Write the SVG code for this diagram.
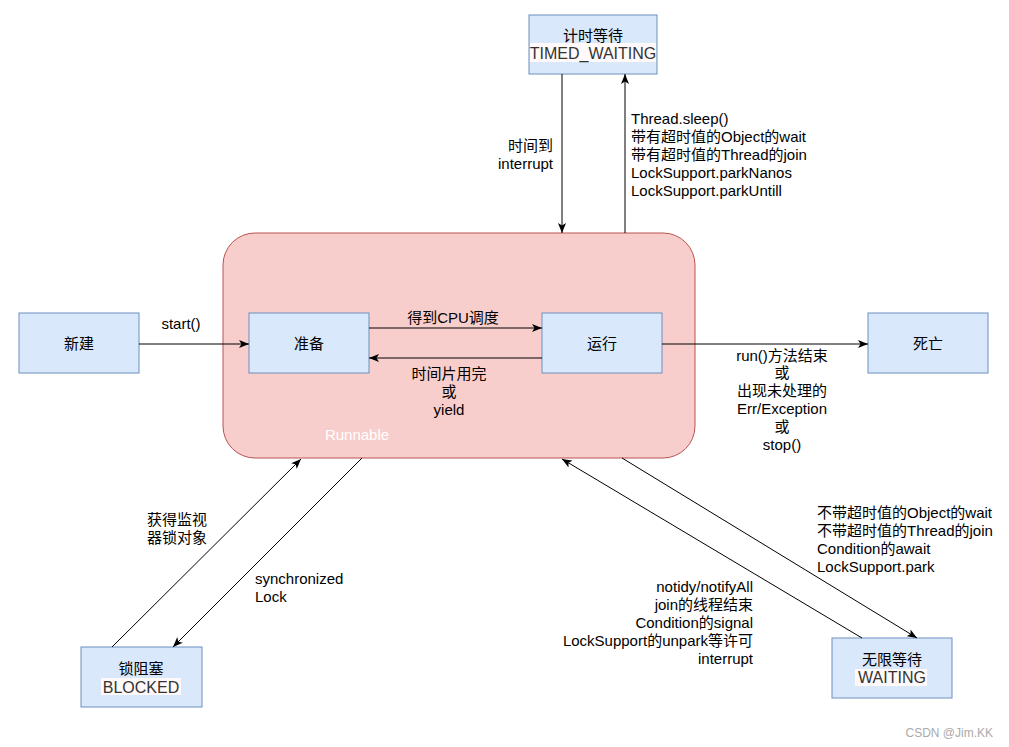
<svg xmlns="http://www.w3.org/2000/svg" width="1009" height="747" viewBox="0 0 1009 747">
<style>
text{font-family:"Liberation Sans",Arial,"Noto Sans CJK SC",sans-serif;font-size:15px;fill:#000;dominant-baseline:central}
.box{fill:#dae8fc;stroke:#6c8ebf;stroke-width:1}
.c{text-anchor:middle}
.e{text-anchor:end}
.en{font-size:16px;fill:#333}
.hl{fill:#fffaf9}
.edge{fill:none;stroke:#000;stroke-width:1;marker-end:url(#arr)}
</style>
<defs>
<marker id="arr" viewBox="0 0 10 8" refX="10" refY="4" markerWidth="10" markerHeight="8" markerUnits="userSpaceOnUse" orient="auto">
<path d="M0,0 L10,4 L0,8 L2.5,4 Z" fill="#000"/>
</marker>
</defs>
<rect width="1009" height="747" fill="#fff"/>
<g id="runnable">
<rect x="223" y="233" width="472" height="225" rx="32" ry="32" fill="#f8cecc" stroke="#b85450"/>
<text x="357" y="434" class="c" style="fill:#fff">Runnable</text>
</g>
<g id="new">
<rect class="box" x="19" y="313" width="120" height="60"/>
<text x="79" y="343" class="c">新建</text>
</g>
<g id="ready">
<rect class="box" x="249" y="313" width="120" height="60"/>
<text x="309" y="343" class="c">准备</text>
</g>
<g id="running">
<rect class="box" x="542" y="313" width="120" height="60"/>
<text x="602" y="343" class="c">运行</text>
</g>
<g id="dead">
<rect class="box" x="868" y="313" width="120" height="60"/>
<text x="928" y="343" class="c">死亡</text>
</g>
<g id="timed">
<rect class="box" x="529" y="15" width="128" height="59"/>
<text x="593" y="35" class="c">计时等待</text>
<rect class="hl" x="530" y="43" width="126" height="19"/>
<text x="593" y="53" class="c en">TIMED_WAITING</text>
</g>
<g id="blocked">
<rect class="box" x="81" y="647" width="121" height="60"/>
<text x="141" y="668" class="c">锁阻塞</text>
<rect class="hl" x="101" y="678" width="80" height="17"/>
<text x="141" y="687" class="c en">BLOCKED</text>
</g>
<g id="waiting">
<rect class="box" x="832" y="638" width="120" height="60"/>
<text x="892" y="659" class="c">无限等待</text>
<rect class="hl" x="855" y="669" width="72" height="17"/>
<text x="892" y="677" class="c en">WAITING</text>
</g>
<g id="connectors">
<path class="edge" d="M139,344 L249,344"/>
<path class="edge" d="M369,328 L542,328"/>
<path class="edge" d="M542,358 L369,358"/>
<path class="edge" d="M662,344 L868,344"/>
<path class="edge" d="M562,74 L562,233"/>
<path class="edge" d="M625,233 L625,74"/>
<path class="edge" d="M112,647 L301,459"/>
<path class="edge" d="M362,458 L173,647"/>
<path class="edge" d="M862,638 L562,459"/>
<path class="edge" d="M622,458 L917,638"/>
</g>
<g id="labels">
<text x="181" y="323" class="c">start()</text>
<text x="453" y="317" class="c">得到CPU调度</text>
<text x="449" y="373" class="c">时间片用完</text>
<text x="449" y="391" class="c">或</text>
<text x="449" y="409" class="c">yield</text>
<text x="782" y="355" class="c">run()方法结束</text>
<text x="782" y="372" class="c">或</text>
<text x="782" y="390" class="c">出现未处理的</text>
<text x="782" y="408" class="c">Err/Exception</text>
<text x="782" y="426" class="c">或</text>
<text x="782" y="444" class="c">stop()</text>
<text x="553" y="145" class="e">时间到</text>
<text x="553" y="163" class="e">interrupt</text>
<text x="631" y="118">Thread.sleep()</text>
<text x="631" y="136">带有超时值的Object的wait</text>
<text x="631" y="154">带有超时值的Thread的join</text>
<text x="631" y="172">LockSupport.parkNanos</text>
<text x="631" y="190">LockSupport.parkUntill</text>
<text x="147" y="519">获得监视</text>
<text x="147" y="537">器锁对象</text>
<text x="255" y="578">synchronized</text>
<text x="255" y="596">Lock</text>
<text x="817" y="512">不带超时值的Object的wait</text>
<text x="817" y="530">不带超时值的Thread的join</text>
<text x="817" y="548">Condition的await</text>
<text x="817" y="566">LockSupport.park</text>
<text x="753" y="586" class="e">notidy/notifyAll</text>
<text x="753" y="604" class="e">join的线程结束</text>
<text x="753" y="622" class="e">Condition的signal</text>
<text x="753" y="640" class="e">LockSupport的unpark等许可</text>
<text x="753" y="658" class="e">interrupt</text>
<text x="993" y="733" class="e" style="font-size:12px;fill:#aaa">CSDN @Jim.KK</text>
</g>
</svg>
